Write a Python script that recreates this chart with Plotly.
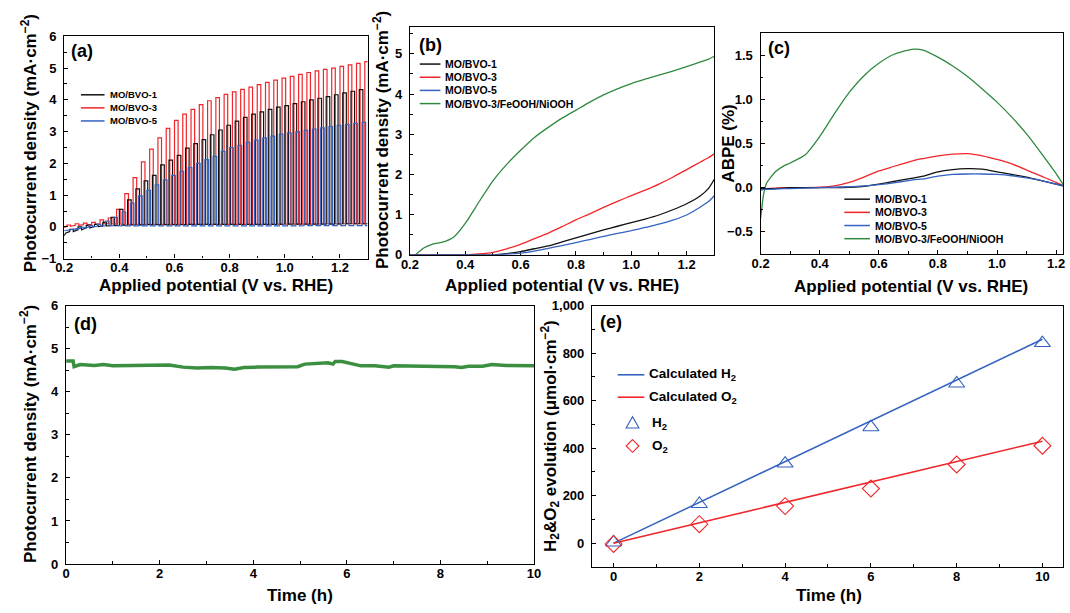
import plotly.graph_objects as go

W, H = 1070, 613
FONT = "Arial, 'Liberation Sans', Helvetica, sans-serif"
BLACK = "#111111"
RED = "#f0262a"
BLUE = "#3462c0"
GREEN = "#2f8a3e"
GREEN_D = "#3a8f40"

# ---------------- (a) chopped LSV ----------------
a_red_start_E = [0.20]
a_red_start_J = [-0.02]
a_red_E = [0.21, 0.24, 0.27, 0.30, 0.33, 0.36, 0.39, 0.42, 0.45, 0.48, 0.51, 0.54, 0.57,
           0.60, 0.63, 0.66, 0.69, 0.72, 0.75, 0.78, 0.81, 0.84, 0.87, 0.90, 0.93, 0.96,
           0.99, 1.02, 1.05, 1.08, 1.11, 1.14, 1.17, 1.20, 1.23, 1.26, 1.29]
a_red_on = [0.06, 0.10, 0.12, 0.14, 0.22, 0.28, 0.55, 1.05, 1.55, 2.05, 2.45, 2.80, 3.10,
            3.35, 3.55, 3.70, 3.85, 3.97, 4.07, 4.17, 4.25, 4.33, 4.40, 4.48, 4.55, 4.62,
            4.68, 4.74, 4.80, 4.86, 4.91, 4.96, 5.00, 5.05, 5.10, 5.15, 5.20]
a_red_dark = [0.02, 0.05, 0.07, 0.08, 0.10, 0.10, 0.09, 0.08, 0.08, 0.08, 0.08, 0.08, 0.08,
              0.08, 0.08, 0.08, 0.08, 0.08, 0.08, 0.08, 0.08, 0.08, 0.08, 0.08, 0.08, 0.09,
              0.09, 0.09, 0.09, 0.09, 0.09, 0.10, 0.10, 0.10, 0.10, 0.10, 0.10]

a_blk_start_E = [0.20, 0.205]
a_blk_start_J = [-0.28, -0.20]
a_blk_E = [0.22, 0.25, 0.28, 0.31, 0.34, 0.37, 0.40, 0.43, 0.46, 0.49, 0.52, 0.55, 0.58,
           0.61, 0.64, 0.67, 0.70, 0.73, 0.76, 0.79, 0.82, 0.85, 0.88, 0.91, 0.94, 0.97,
           1.00, 1.03, 1.06, 1.09, 1.12, 1.15, 1.18, 1.21, 1.24, 1.27]
a_blk_on = [-0.08, 0.00, 0.05, 0.08, 0.14, 0.30, 0.55, 0.85, 1.20, 1.45, 1.62, 1.95, 2.10,
            2.25, 2.48, 2.62, 2.75, 2.90, 3.05, 3.20, 3.33, 3.45, 3.55, 3.62, 3.70, 3.77,
            3.82, 3.88, 3.94, 4.00, 4.05, 4.10, 4.16, 4.22, 4.27, 4.32]
a_blk_dark = [-0.15, -0.09, -0.03, 0.01, 0.03, 0.04, 0.05, 0.06, 0.06, 0.07, 0.07, 0.07, 0.07,
              0.07, 0.08, 0.08, 0.08, 0.08, 0.08, 0.08, 0.08, 0.08, 0.08, 0.08, 0.08, 0.08,
              0.09, 0.09, 0.09, 0.09, 0.09, 0.09, 0.09, 0.10, 0.10, 0.10]

a_blu_start_E = [0.20]
a_blu_start_J = [-0.12]
a_blu_E = [0.23, 0.26, 0.29, 0.32, 0.35, 0.38, 0.41, 0.44, 0.47, 0.50, 0.53, 0.56, 0.59,
           0.62, 0.65, 0.68, 0.71, 0.74, 0.77, 0.80, 0.83, 0.86, 0.89, 0.92, 0.95, 0.98,
           1.01, 1.04, 1.07, 1.10, 1.13, 1.16, 1.19, 1.22, 1.25, 1.28]
a_blu_on = [-0.06, -0.01, 0.04, 0.08, 0.18, 0.30, 0.47, 0.75, 0.98, 1.15, 1.32, 1.48, 1.62,
            1.75, 1.87, 2.00, 2.12, 2.22, 2.38, 2.50, 2.57, 2.66, 2.73, 2.80, 2.86, 2.92,
            2.96, 3.00, 3.04, 3.08, 3.12, 3.16, 3.20, 3.23, 3.26, 3.29]
a_blu_dark = [-0.08, -0.04, 0.00, 0.02, 0.04, 0.04, 0.03, 0.03, 0.03, 0.03, 0.03, 0.03, 0.03,
              0.03, 0.03, 0.03, 0.03, 0.03, 0.03, 0.03, 0.03, 0.03, 0.03, 0.03, 0.03, 0.03,
              0.03, 0.03, 0.04, 0.04, 0.04, 0.04, 0.04, 0.04, 0.04, 0.04]
a_end_E = 1.30
a_on_width = 0.013

# ---------------- (b) LSV ----------------
b_E = [0.20, 0.22, 0.25, 0.28, 0.30, 0.33, 0.36, 0.40, 0.45, 0.50, 0.55, 0.60, 0.65, 0.70,
       0.75, 0.80, 0.85, 0.90, 0.95, 1.00, 1.05, 1.10, 1.15, 1.20, 1.25, 1.28, 1.30]
b_blk = [0, 0, 0, 0, 0, 0, 0, 0, 0, 0.0, 0.03, 0.08, 0.15, 0.22, 0.32, 0.42, 0.52, 0.62,
         0.71, 0.80, 0.89, 0.99, 1.12, 1.27, 1.47, 1.66, 1.88]
b_red = [0, 0, 0, 0, 0, 0, 0, 0.0, 0.02, 0.06, 0.15, 0.26, 0.40, 0.54, 0.70, 0.87, 1.02,
         1.18, 1.33, 1.47, 1.61, 1.76, 1.93, 2.12, 2.31, 2.42, 2.51]
b_blu = [0, 0, 0, 0, 0, 0, 0, 0, 0, 0.0, 0.015, 0.04, 0.09, 0.16, 0.23, 0.30, 0.38, 0.46,
         0.53, 0.60, 0.68, 0.76, 0.86, 0.99, 1.19, 1.33, 1.47]
b_grn = [None, 0.0, 0.17, 0.26, 0.29, 0.34, 0.45, 0.78, 1.32, 1.84, 2.25, 2.60, 2.92, 3.17,
         3.40, 3.60, 3.80, 3.98, 4.13, 4.26, 4.37, 4.47, 4.57, 4.68, 4.80, 4.87, 4.94]

# ---------------- (c) ABPE ----------------
c_E = [0.20, 0.21, 0.22, 0.25, 0.28, 0.30, 0.35, 0.40, 0.45, 0.50, 0.55, 0.60, 0.65, 0.70,
       0.72, 0.75, 0.80, 0.85, 0.90, 0.95, 1.00, 1.05, 1.10, 1.15, 1.20, 1.225]
c_grn = [-0.35, -0.08, 0.05, 0.18, 0.25, 0.28, 0.37, 0.58, 0.84, 1.08, 1.27, 1.41, 1.51, 1.56,
         1.57, 1.56, 1.48, 1.38, 1.26, 1.12, 0.97, 0.80, 0.61, 0.39, 0.16, 0.03]
c_red = [-0.01, -0.01, -0.01, -0.005, 0.0, 0.0, 0.0, 0.005, 0.02, 0.06, 0.12, 0.19, 0.24, 0.29,
         0.31, 0.33, 0.36, 0.38, 0.385, 0.36, 0.32, 0.27, 0.20, 0.13, 0.06, 0.02]
c_blk = [-0.01, -0.01, -0.01, -0.01, -0.005, 0.0, 0.0, 0.0, 0.0, 0.005, 0.015, 0.04, 0.07, 0.10,
         0.11, 0.13, 0.18, 0.205, 0.215, 0.21, 0.18, 0.15, 0.12, 0.08, 0.04, 0.02]
c_blu = [-0.03, -0.02, -0.02, -0.015, -0.01, -0.01, -0.005, 0.0, 0.005, 0.01, 0.02, 0.035, 0.055,
         0.08, 0.09, 0.10, 0.13, 0.15, 0.155, 0.155, 0.15, 0.135, 0.11, 0.08, 0.04, 0.02]

# ---------------- (d) stability ----------------
d_t = [0, 0.15, 0.17, 0.3, 0.6, 0.8, 1.0, 1.3, 1.6, 2.0, 2.2, 2.5, 2.8, 3.1, 3.4, 3.6, 3.8,
       4.1, 4.4, 4.7, 4.95, 5.1, 5.4, 5.6, 5.7, 5.75, 5.9, 6.1, 6.3, 6.6, 6.9, 7.0, 7.3, 7.7,
       8.0, 8.3, 8.45, 8.6, 8.9, 9.1, 9.4, 9.7, 10.0]
d_j = [4.71, 4.71, 4.58, 4.63, 4.61, 4.63, 4.60, 4.61, 4.62, 4.63, 4.62, 4.57, 4.55, 4.56,
       4.55, 4.52, 4.56, 4.57, 4.57, 4.56, 4.58, 4.64, 4.66, 4.67, 4.64, 4.70, 4.70, 4.66,
       4.60, 4.60, 4.57, 4.60, 4.60, 4.59, 4.60, 4.58, 4.56, 4.59, 4.59, 4.63, 4.61, 4.60, 4.60]

# ---------------- (e) gas evolution ----------------
e_t = [0, 2, 4, 6, 8, 10]
e_h2 = [3, 165, 335, 488, 672, 842]
e_o2 = [-3, 80, 156, 230, 331, 410]
e_calc_t = [0, 10]
e_calc_h2 = [0, 858]
e_calc_o2 = [0, 429]

legend_a = ["MO/BVO-1", "MO/BVO-3", "MO/BVO-5"]
legend_bc = ["MO/BVO-1", "MO/BVO-3", "MO/BVO-5", "MO/BVO-3/FeOOH/NiOOH"]
legend_e = ["Calculated H<sub>2</sub>", "Calculated O<sub>2</sub>", "H<sub>2</sub>", "O<sub>2</sub>"]


def fx(p):
    return p / W


def fy(p):
    return 1 - p / H


def chopped(E0, J0, E_on, J_on, J_dark, end_E, width):
    xs, ys = list(E0), list(J0)
    for e, jon, jd in zip(E_on, J_on, J_dark):
        xs += [e, e, e + width, e + width]
        ys += [jd, jon, jon, jd]
    xs.append(end_E)
    ys.append(J_dark[-1])
    return xs, ys


fig = go.Figure()


def add_line(x, y, color, xa, ya, width=1.3, shape="linear"):
    fig.add_trace(go.Scatter(x=x, y=y, mode="lines",
                             line=dict(color=color, width=width, shape=shape, smoothing=0.6),
                             xaxis=xa, yaxis=ya, showlegend=False, hoverinfo="skip"))


# (a)
for E0, J0, E, Jon, Jd, col in [
    (a_red_start_E, a_red_start_J, a_red_E, a_red_on, a_red_dark, RED),
    (a_blk_start_E, a_blk_start_J, a_blk_E, a_blk_on, a_blk_dark, BLACK),
    (a_blu_start_E, a_blu_start_J, a_blu_E, a_blu_on, a_blu_dark, BLUE),
]:
    xs, ys = chopped(E0, J0, E, Jon, Jd, a_end_E, a_on_width)
    add_line(xs, ys, col, "x", "y", 1.2)

# (b)
add_line(b_E, b_grn, GREEN, "x2", "y2", shape="spline")
add_line(b_E, b_red, RED, "x2", "y2", shape="spline")
add_line(b_E, b_blk, BLACK, "x2", "y2", shape="spline")
add_line(b_E, b_blu, BLUE, "x2", "y2", shape="spline")

# (c)
add_line(c_E, c_grn, GREEN, "x3", "y3", shape="spline")
add_line(c_E, c_red, RED, "x3", "y3", shape="spline")
add_line(c_E, c_blk, BLACK, "x3", "y3", shape="spline")
add_line(c_E, c_blu, BLUE, "x3", "y3", shape="spline")

# (d)
add_line(d_t, d_j, GREEN_D, "x4", "y4", 3.5)

# (e)
add_line(e_calc_t, e_calc_h2, BLUE, "x5", "y5", 1.5)
add_line(e_calc_t, e_calc_o2, RED, "x5", "y5", 1.5)
fig.add_trace(go.Scatter(x=e_t, y=e_h2, mode="markers", xaxis="x5", yaxis="y5",
                         marker=dict(symbol="triangle-up-open", size=14, color=BLUE,
                                     line=dict(width=1.1, color=BLUE)),
                         showlegend=False, hoverinfo="skip"))
fig.add_trace(go.Scatter(x=e_t, y=e_o2, mode="markers", xaxis="x5", yaxis="y5",
                         marker=dict(symbol="diamond-open", size=13, color=RED,
                                     line=dict(width=1.1, color=RED)),
                         showlegend=False, hoverinfo="skip"))


def axis(dom_px, rng, dtick, tick0, minor, fmt=None, anchor=None, vertical=False, layer="above traces"):
    if vertical:
        domain = [fy(dom_px[1]), fy(dom_px[0])]
    else:
        domain = [fx(dom_px[0]), fx(dom_px[1])]
    d = dict(domain=domain, range=rng, dtick=dtick, tick0=tick0, showline=True,
             linecolor="black", linewidth=1.4, mirror=True, ticks="inside", ticklen=4,
             tickwidth=1.2, tickcolor="black",
             minor=dict(ticks="inside", ticklen=2.5, dtick=minor, tick0=tick0,
                        tickcolor="black", tickwidth=1, showgrid=False),
             showgrid=False, zeroline=False, anchor=anchor, layer=layer,
             tickfont=dict(family=FONT, size=13, color="black", weight="bold"),
             ticklabelstandoff=4 if vertical else -3)
    if fmt:
        d["tickformat"] = fmt
    return d


lay = dict(
    width=W, height=H, margin=dict(l=0, r=0, t=0, b=0), autosize=False,
    paper_bgcolor="white", plot_bgcolor="white", showlegend=False,
    font=dict(family=FONT, color="black"),
    xaxis=axis([56, 364], [0.2, 1.3], 0.2, 0.2, 0.1, ".1f", "y"),
    yaxis=axis([30, 258], [-1, 6], 1, 0, 0.5, None, "x", True),
    xaxis2=axis([407, 716], [0.2, 1.3], 0.2, 0.2, 0.1, ".1f", "y2", layer="below traces"),
    yaxis2=axis([20, 254], [0, 5.68], 1, 0, 0.5, None, "x2", True),
    xaxis3=axis([763, 1070], [0.2, 1.2233], 0.2, 0.2, 0.1, ".1f", "y3"),
    yaxis3=axis([27, 253], [-0.75, 1.75], 0.5, 0, 0.25, ".1f", "x3", True),
    xaxis4=axis([58, 533], [0, 10], 2, 0, 1, None, "y4"),
    yaxis4=axis([306, 571], [0, 6], 1, 0, 0.5, None, "x4", True),
    xaxis5=axis([592, 1070], [-0.5, 10.48], 2, 0, 1, None, "y5"),
    yaxis5=axis([306, 574], [-100, 1000], 200, 0, 100, ",d", "x5", True),
)
fig.update_layout(**lay)

ann = []
shapes = []


def text(x, y, s, size, xanchor="left", angle=0, color="black"):
    ann.append(dict(x=fx(x), y=fy(y), xref="paper", yref="paper", text=s, showarrow=False,
                    xanchor=xanchor, yanchor="middle", textangle=angle,
                    font=dict(family=FONT, size=size, color=color, weight="bold")))


# panel labels
text(61, 45, "(a)", 18)
text(414, 39, "(b)", 18)
text(768, 42, "(c)", 18)
text(64, 325, "(d)", 18)
text(598, 323, "(e)", 18)

# axis titles
xt = "Applied potential (V vs. RHE)"
text(210, 285, xt, 17, "center")
text(561, 285, xt, 17, "center")
text(916, 287, xt, 17, "center")
text(295, 603, "Time (h)", 17, "center")
text(832, 603, "Time (h)", 17, "center")
yt = "Photocurrent density (mA·cm<sup>−2</sup>)"
text(20, 140, yt, 17, "center", -90)
text(377, 136, yt, 17, "center", -90)
text(731, 140, "ABPE (%)", 17, "center", -90)
text(20, 438, yt, 17, "center", -90)
text(549, 440, "H<sub>2</sub>&O<sub>2</sub> evolution (μmol·cm<sup>−2</sup>)", 17, "center", -90)


def leg_line(x0, x1, y, color, width=1.5):
    shapes.append(dict(type="line", xref="paper", yref="paper", x0=fx(x0), x1=fx(x1),
                       y0=fy(y), y1=fy(y), line=dict(color=color, width=width)))


# legend (a)
for i, (lab, col) in enumerate(zip(legend_a, [BLACK, RED, BLUE])):
    y = 90 + 13.4 * i
    leg_line(73, 97, y, col)
    text(100, y, lab, 9.5)

# legend (b)
cols4 = [BLACK, RED, BLUE, GREEN]
for i, (lab, col) in enumerate(zip(legend_bc, cols4)):
    y = 58.5 + 13.5 * i
    leg_line(417, 438, y, col)
    text(441, y, lab, 10.5)

# legend (c)
for i, (lab, col) in enumerate(zip(legend_bc, cols4)):
    y = 197 + 13.5 * i
    leg_line(848, 874, y, col)
    text(877, y, lab, 10.5)

# legend (e)
leg_line(618, 645, 377, BLUE, 1.6)
text(648, 377, legend_e[0], 13.5)
leg_line(618, 645, 400, RED, 1.6)
text(648, 400, legend_e[1], 13.5)
tx, ty = 633, 426
shapes.append(dict(type="path", xref="paper", yref="paper",
                   path=f"M {fx(tx-6.5)} {fy(ty+5.5)} L {fx(tx+6.5)} {fy(ty+5.5)} L {fx(tx)} {fy(ty-6)} Z",
                   line=dict(color=BLUE, width=1.1)))
text(651, 427, legend_e[2], 13.5)
dx, dy = 633, 450
shapes.append(dict(type="path", xref="paper", yref="paper",
                   path=f"M {fx(dx)} {fy(dy-6.5)} L {fx(dx+6.5)} {fy(dy)} L {fx(dx)} {fy(dy+6.5)} L {fx(dx-6.5)} {fy(dy)} Z",
                   line=dict(color=RED, width=1.1)))
text(651, 451, legend_e[3], 13.5)

fig.update_layout(annotations=ann, shapes=shapes)
fig.write_html("out.html", config={"displayModeBar": False},
               post_script="document.body.style.margin='0px';document.body.style.overflow='hidden';")
